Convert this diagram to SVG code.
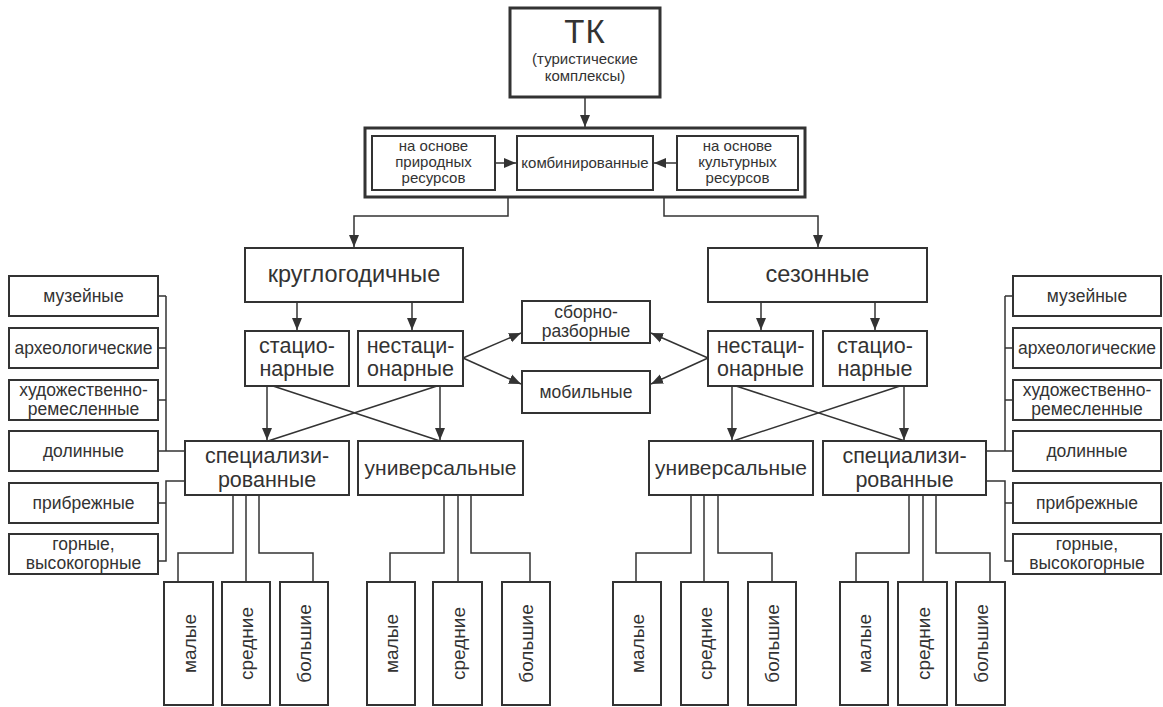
<svg xmlns="http://www.w3.org/2000/svg" width="1163" height="707" viewBox="0 0 1163 707">
<style>
rect{fill:#fff;stroke:#333;stroke-width:2}
.thick{stroke-width:3}
text{font-family:"Liberation Sans",Arial,sans-serif;fill:#333;text-anchor:middle}
.big{font-size:23.5px}
.two{font-size:21.5px}
.uni{font-size:21px}
.mid{font-size:17.5px}
.rot{font-size:19px}
.sm{font-size:15px}
.con path{fill:none;stroke:#333;stroke-width:1.5}
</style>
<defs>
<marker id="ah" markerUnits="userSpaceOnUse" markerWidth="12" markerHeight="12" viewBox="0 0 12 12" refX="12" refY="6" orient="auto">
<path d="M0,1 L12,6 L0,11 Z" fill="#333"/>
</marker>
</defs>
<g id="n-tk"><rect class="thick" x="510" y="8" width="150" height="89"/><text x="585" y="43" style="font-size:33px;letter-spacing:1px">ТК</text><text class="sm" x="585" y="64">(туристические</text><text class="sm" x="585" y="81">комплексы)</text></g>
<g id="n-group"><rect class="thick" x="365" y="128" width="440" height="69"/></g>
<g id="n-nat"><rect x="372" y="136" width="123" height="54"/><text class="sm" x="433.5" y="151">на основе</text><text class="sm" x="433.5" y="167">природных</text><text class="sm" x="433.5" y="183">ресурсов</text></g>
<g id="n-comb"><rect x="517" y="136" width="136" height="54"/><text class="sm" x="585" y="168">комбинированные</text></g>
<g id="n-cult"><rect x="677" y="136" width="121" height="54"/><text class="sm" x="737.5" y="151">на основе</text><text class="sm" x="737.5" y="167">культурных</text><text class="sm" x="737.5" y="183">ресурсов</text></g>
<g id="n-year"><rect x="245" y="248" width="218" height="54"/><text class="big" x="354" y="282">круглогодичные</text></g>
<g id="n-season"><rect x="708" y="248" width="219" height="54"/><text class="big" x="817.5" y="282">сезонные</text></g>
<g id="n-st-l"><rect x="245" y="331" width="104" height="55"/><text class="two" x="297" y="353">стацио-</text><text class="two" x="297" y="376">нарные</text></g>
<g id="n-nst-l"><rect x="358" y="331" width="105" height="55"/><text class="two" x="410.5" y="353">нестаци-</text><text class="two" x="410.5" y="376">онарные</text></g>
<g id="n-nst-r"><rect x="708" y="331" width="105" height="55"/><text class="two" x="760.5" y="353">нестаци-</text><text class="two" x="760.5" y="376">онарные</text></g>
<g id="n-st-r"><rect x="823" y="331" width="104" height="55"/><text class="two" x="875" y="353">стацио-</text><text class="two" x="875" y="376">нарные</text></g>
<g id="n-sb"><rect x="522" y="301" width="128" height="42"/><text class="mid" x="586" y="318">сборно-</text><text class="mid" x="586" y="337">разборные</text></g>
<g id="n-mob"><rect x="522" y="371" width="128" height="42"/><text class="mid" x="586" y="398">мобильные</text></g>
<g id="n-sp-l"><rect x="185" y="441" width="164" height="54"/><text class="two" x="267" y="463">специализи-</text><text class="two" x="267" y="487">рованные</text></g>
<g id="n-un-l"><rect x="358" y="441" width="165" height="54"/><text class="uni" x="440.5" y="475">универсальные</text></g>
<g id="n-un-r"><rect x="649" y="441" width="164" height="54"/><text class="uni" x="731" y="475">универсальные</text></g>
<g id="n-sp-r"><rect x="823" y="441" width="163" height="54"/><text class="two" x="904.5" y="463">специализи-</text><text class="two" x="904.5" y="487">рованные</text></g>
<g id="n-l-mus"><rect x="9" y="276" width="149" height="40"/><text class="mid" x="83.5" y="302">музейные</text></g>
<g id="n-l-arch"><rect x="9" y="328" width="149" height="40"/><text class="mid" x="83.5" y="354">археологические</text></g>
<g id="n-l-art"><rect x="9" y="380" width="149" height="40"/><text class="mid" x="83.5" y="396">художественно-</text><text class="mid" x="83.5" y="415">ремесленные</text></g>
<g id="n-l-val"><rect x="9" y="431" width="149" height="40"/><text class="mid" x="83.5" y="457">долинные</text></g>
<g id="n-l-coast"><rect x="9" y="483" width="149" height="40"/><text class="mid" x="83.5" y="509">прибрежные</text></g>
<g id="n-l-mount"><rect x="9" y="534" width="149" height="40"/><text class="mid" x="83.5" y="550">горные,</text><text class="mid" x="83.5" y="569">высокогорные</text></g>
<g id="n-r-mus"><rect x="1013" y="276" width="148" height="40"/><text class="mid" x="1087" y="302">музейные</text></g>
<g id="n-r-arch"><rect x="1013" y="328" width="148" height="40"/><text class="mid" x="1087" y="354">археологические</text></g>
<g id="n-r-art"><rect x="1013" y="380" width="148" height="40"/><text class="mid" x="1087" y="396">художественно-</text><text class="mid" x="1087" y="415">ремесленные</text></g>
<g id="n-r-val"><rect x="1013" y="431" width="148" height="40"/><text class="mid" x="1087" y="457">долинные</text></g>
<g id="n-r-coast"><rect x="1013" y="483" width="148" height="40"/><text class="mid" x="1087" y="509">прибрежные</text></g>
<g id="n-r-mount"><rect x="1013" y="534" width="148" height="40"/><text class="mid" x="1087" y="550">горные,</text><text class="mid" x="1087" y="569">высокогорные</text></g>
<g id="n-b1"><rect x="164" y="582" width="49" height="123"/><text class="rot" transform="translate(188.5,643.5) rotate(-90)" y="7">малые</text></g>
<g id="n-b2"><rect x="222" y="582" width="48" height="123"/><text class="rot" transform="translate(246,643.5) rotate(-90)" y="7">средние</text></g>
<g id="n-b3"><rect x="280" y="582" width="48" height="123"/><text class="rot" transform="translate(304,643.5) rotate(-90)" y="7">большие</text></g>
<g id="n-b4"><rect x="367" y="582" width="48" height="123"/><text class="rot" transform="translate(391,643.5) rotate(-90)" y="7">малые</text></g>
<g id="n-b5"><rect x="433" y="582" width="49" height="123"/><text class="rot" transform="translate(457.5,643.5) rotate(-90)" y="7">средние</text></g>
<g id="n-b6"><rect x="502" y="582" width="48" height="123"/><text class="rot" transform="translate(526,643.5) rotate(-90)" y="7">большие</text></g>
<g id="n-b7"><rect x="613" y="582" width="48" height="123"/><text class="rot" transform="translate(637,643.5) rotate(-90)" y="7">малые</text></g>
<g id="n-b8"><rect x="681" y="582" width="47" height="123"/><text class="rot" transform="translate(704.5,643.5) rotate(-90)" y="7">средние</text></g>
<g id="n-b9"><rect x="748" y="582" width="48" height="123"/><text class="rot" transform="translate(772,643.5) rotate(-90)" y="7">большие</text></g>
<g id="n-b10"><rect x="840" y="582" width="48" height="123"/><text class="rot" transform="translate(864,643.5) rotate(-90)" y="7">малые</text></g>
<g id="n-b11"><rect x="898" y="582" width="49" height="123"/><text class="rot" transform="translate(922.5,643.5) rotate(-90)" y="7">средние</text></g>
<g id="n-b12"><rect x="956" y="582" width="49" height="123"/><text class="rot" transform="translate(980.5,643.5) rotate(-90)" y="7">большие</text></g>
<g id="connectors" class="con">
<path d="M585,97 V127" marker-end="url(#ah)"/>
<path d="M495,163 H516" marker-end="url(#ah)"/>
<path d="M677,163 H654" marker-end="url(#ah)"/>
<path d="M508,197 V216 H354 V247" marker-end="url(#ah)"/>
<path d="M664,197 V216 H818 V247" marker-end="url(#ah)"/>
<path d="M297,302 V330" marker-end="url(#ah)"/>
<path d="M412,302 V330" marker-end="url(#ah)"/>
<path d="M761,302 V330" marker-end="url(#ah)"/>
<path d="M875,302 V330" marker-end="url(#ah)"/>
<path d="M267,386 V440" marker-end="url(#ah)"/>
<path d="M440,386 V440" marker-end="url(#ah)"/>
<path d="M273,386 L440,441"/>
<path d="M437,386 L268,441"/>
<path d="M732,386 V440" marker-end="url(#ah)"/>
<path d="M904,386 V440" marker-end="url(#ah)"/>
<path d="M736,386 L905,441"/>
<path d="M900,386 L733,441"/>
<path d="M463,358 L521,333" marker-end="url(#ah)"/>
<path d="M463,358 L521,384" marker-end="url(#ah)"/>
<path d="M708,358 L651,333" marker-end="url(#ah)"/>
<path d="M708,358 L651,384" marker-end="url(#ah)"/>
<path d="M158,296 H166 M158,348 H166 M158,400 H166 M158,451 H185 M166,296 V451 M185,481 H166 V561 H158 M158,503 H166"/>
<path d="M1013,296 H1005 M1013,348 H1005 M1013,400 H1005 M1013,451 H986 M1005,296 V451 M986,481 H1005 V561 H1013 M1013,503 H1005"/>
<path d="M233,495 V553 H178 V582 M246,495 V582 M259,495 V553 H313 V582"/>
<path d="M444,495 V553 H390 V582 M458,495 V582 M471,495 V553 H530 V582"/>
<path d="M691,495 V553 H636 V582 M704,495 V582 M718,495 V553 H772 V582"/>
<path d="M909,495 V553 H856 V582 M923,495 V582 M936,495 V553 H990 V582"/>
</g>
</svg>
